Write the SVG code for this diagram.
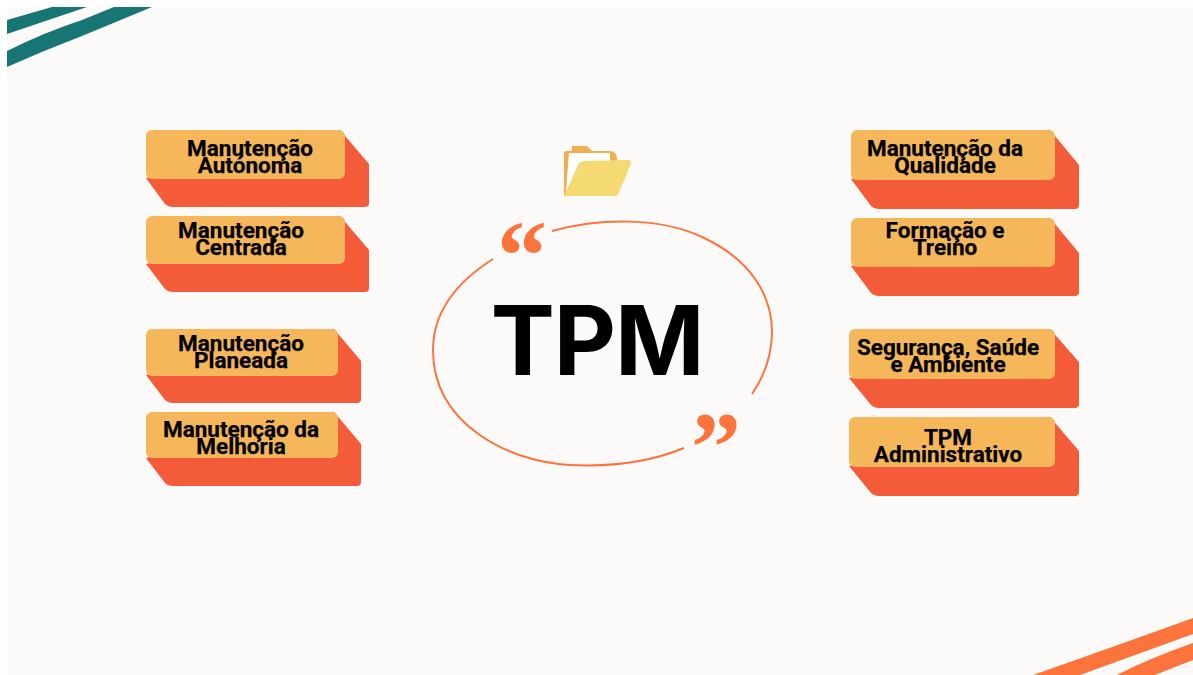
<svg xmlns="http://www.w3.org/2000/svg" width="1193" height="675" viewBox="0 0 1193 675">
<style>
.front{fill:#f6b65a}
.back{fill:#f45b38}
.lbl{font-family:Roboto,"Liberation Sans",sans-serif;font-weight:700;font-size:22.5px;fill:#000;stroke:#000;stroke-width:.25px;text-anchor:middle}
.q{font-family:"Liberation Serif",serif;font-weight:700;font-size:100px;fill:#fd733c;text-anchor:middle}
</style>
<rect width="1193" height="675" fill="#fff"/>
<rect x="7" y="7" width="1186" height="668" fill="#fcfaf9"/>
<g id="decor-top"><path d="M7 20L52 7H87L7 34Z M7 51Q45 32 82 20L114 7H152L82 36Q45 50 7 67Z" fill="#177673"/></g>
<g id="decor-bottom"><path d="M1033 675Q1110 648 1193 618V634L1080 675Z M1117 675Q1150 658 1193 643V660L1155 675Z" fill="#fd733c"/></g>
<g id="connectors"><path d="M552 231C600 218 660 217 702 237C750 259 773 295 772 335C771 358 763 378 752 394" fill="none" stroke="#fd733c" stroke-width="2"/><path d="M684 448C650 462 610 467 570 465C510 462 433 425 433 350C433 310 460 280 493 259" fill="none" stroke="#fd733c" stroke-width="2"/></g>
<g id="folder"><path d="M564 196V153Q564 151 567 151H572V146H587L592 151H610Q617 152 617 158V162H610V154H569L566 196Z" fill="#f3ae52"/><path d="M569 153H610V162H580Q576 170 566 194Z" fill="#fff"/><path d="M564 196L578 165Q580 161 586 161L628 160Q632 160 631 163Q625 180 617 196Z" fill="#f5da74"/></g>
<g id="quote-open"><text class="q" x="522" y="289">“</text></g>
<g id="quote-close"><text class="q" x="716" y="480">”</text></g>
<g id="title"><text x="597" y="374.5" font-family="Inter,'Liberation Sans',sans-serif" font-weight="700" font-size="96" letter-spacing="-1" text-anchor="middle" fill="#000">TPM</text></g>
<g id="n1"><path class="back" d="M340 130L369 164V203Q369 207 365 207H172Q168 207 165 204L146 178Z"/><rect class="front" x="146" y="130" width="199" height="49" rx="6"/><text class="lbl" x="250" y="156">Manutenção</text><text class="lbl" x="250" y="173">Autónoma</text></g>
<g id="n2"><path class="back" d="M340 216L369 250V288Q369 292 365 292H172Q168 292 165 289L146 264Z"/><rect class="front" x="146" y="216" width="199" height="48" rx="6"/><text class="lbl" x="241" y="238">Manutenção</text><text class="lbl" x="241" y="255">Centrada</text></g>
<g id="n3"><path class="back" d="M334 329L361 361V399Q361 403 357 403H172Q168 403 165 400L146 375Z"/><rect class="front" x="146" y="329" width="192" height="47" rx="6"/><text class="lbl" x="241" y="351">Manutenção</text><text class="lbl" x="241" y="368">Planeada</text></g>
<g id="n4"><path class="back" d="M334 412L361 444V482Q361 486 357 486H172Q168 486 165 483L146 458Z"/><rect class="front" x="146" y="412" width="192" height="46" rx="6"/><text class="lbl" x="241" y="437">Manutenção da</text><text class="lbl" x="241" y="454">Melhoria</text></g>
<g id="n5"><path class="back" d="M1050 130L1079 165V205Q1079 209 1075 209H878Q874 209 871 206L851 179Z"/><rect class="front" x="851" y="130" width="204" height="50" rx="6"/><text class="lbl" x="945" y="156">Manutenção da</text><text class="lbl" x="945" y="173">Qualidade</text></g>
<g id="n6"><path class="back" d="M1050 218L1079 253V292Q1079 296 1075 296H878Q874 296 871 293L851 266Z"/><rect class="front" x="851" y="218" width="204" height="49" rx="6"/><text class="lbl" x="945" y="238">Formação e</text><text class="lbl" x="945" y="255">Treino</text></g>
<g id="n7"><path class="back" d="M1050 329L1079 362V404Q1079 408 1075 408H878Q874 408 871 405L849 378Z"/><rect class="front" x="849" y="329" width="206" height="50" rx="6"/><text class="lbl" x="948" y="355">Segurança, Saúde</text><text class="lbl" x="948" y="372">e Ambiente</text></g>
<g id="n8"><path class="back" d="M1050 417L1079 451V492Q1079 496 1075 496H878Q874 496 871 493L849 466Z"/><rect class="front" x="849" y="417" width="206" height="50" rx="6"/><text class="lbl" x="948" y="445">TPM</text><text class="lbl" x="948" y="462">Administrativo</text></g>
</svg>
